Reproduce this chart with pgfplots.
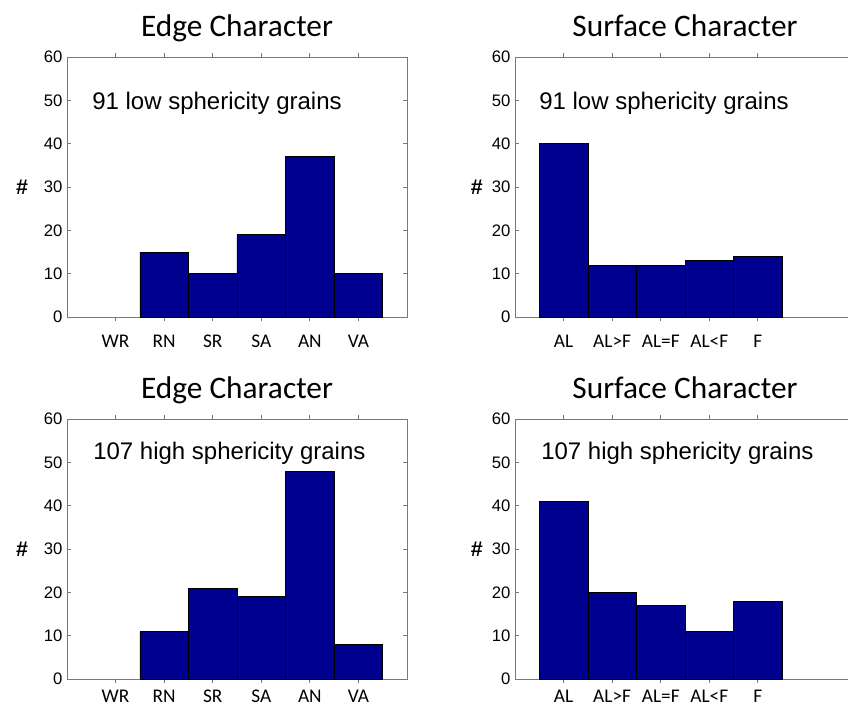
\documentclass[border=0pt]{standalone}
\usepackage{fontspec}
\setmainfont{Liberation Sans}
\newfontfamily\calfont{Carlito}
\newfontfamily\arifont{Liberation Sans}
\usepackage{pgfplots}
\pgfplotsset{compat=1.18}
\definecolor{barblue}{RGB}{0,0,143}
\definecolor{axgray}{RGB}{120,120,120}

\tikzset{note/.style={anchor=base west, inner sep=0pt, font=\arifont\fontsize{18}{20}\selectfont}}
\pgfplotsset{
 hist/.style={
  scale only axis, width=255pt, height=195pt,
  xmin=0, xmax=7, ymin=0, ymax=60,
  ytick={0,10,...,60},
  tick align=inside, tick pos=both,
  major tick length=3pt,
  axis line style={axgray, line width=0.7pt},
  every tick/.style={axgray, line width=0.7pt},
  /pgf/number format/assume math mode=true,
  yticklabel style={font=\arifont\fontsize{12.5}{13}\selectfont},
  xticklabel style={font=\calfont\fontsize{14.5}{15}\selectfont, yshift=-7pt},
  title style={font=\calfont\fontsize{23.5}{25}\selectfont, at={(0.5,1)}, anchor=base, yshift=9.5pt},
  ylabel={\#},
  ylabel style={rotate=-90, font=\arifont\bfseries\fontsize{16}{17}\selectfont, at={(rel axis cs:0,0.5)}, anchor=east, inner sep=0pt},
  ybar, bar width=1,
  cycle list={{fill=barblue, draw=black, line width=0.5pt}},
 },
 edge/.style={hist, title={Edge Character}, xtick={1,...,6}, xticklabels={WR,RN,SR,SA,AN,VA}, ylabel style={xshift=-29pt}},
 surf/.style={hist, title={Surface Character}, xtick={1,...,5}, xticklabels={AL,AL>F,AL=F,AL<F,F}, ylabel style={xshift=-24pt}},
}

\begin{document}
\begin{tikzpicture}
\useasboundingbox (0,0) rectangle (636pt,531pt);
\clip (0,0) rectangle (636pt,531pt);

% top left (WR = 0 is not drawn)
\begin{axis}[edge, at={(50.25pt,293.25pt)}, anchor=south west]
\addplot coordinates {(2,15) (3,10) (4,19) (5,37) (6,10)};
\node[note] at (rel axis cs:0,1) [xshift=18.75pt, yshift=-39pt] {91 low sphericity grains};
\end{axis}

% top right
\begin{axis}[surf, at={(386.25pt,293.25pt)}, anchor=south west]
\addplot coordinates {(1,40) (2,12) (3,12) (4,13) (5,14)};
\node[note] at (rel axis cs:0,1) [xshift=18pt, yshift=-39pt] {91 low sphericity grains};
\end{axis}

% bottom left
\begin{axis}[edge, at={(50.25pt,21.75pt)}, anchor=south west, xticklabel style={yshift=5pt}]
\addplot coordinates {(2,11) (3,21) (4,19) (5,48) (6,8)};
\node[note] at (rel axis cs:0,1) [xshift=19.5pt, yshift=-30pt] {107 high sphericity grains};
\end{axis}

% bottom right
\begin{axis}[surf, at={(386.25pt,21.75pt)}, anchor=south west, xticklabel style={yshift=5pt}]
\addplot coordinates {(1,41) (2,20) (3,17) (4,11) (5,18)};
\node[note] at (rel axis cs:0,1) [xshift=19.5pt, yshift=-30pt] {107 high sphericity grains};
\end{axis}
\end{tikzpicture}
\end{document}
